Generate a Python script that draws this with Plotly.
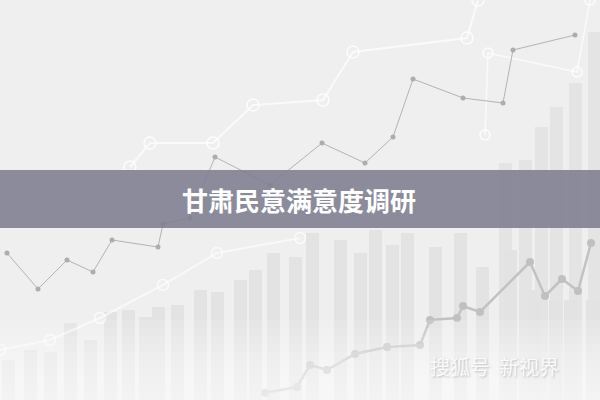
import plotly.graph_objects as go

# ---- data (heights measured from the bottom of the 400px canvas) ----
bar_x_front = [8, 30, 50, 70, 90, 110, 128, 145, 158, 177, 200, 217, 240, 255, 273, 295,
               312, 340, 360, 375, 392, 407, 435, 460, 482, 510, 535, 555, 570, 592]
bar_h_front = [40, 50, 48, 77, 60, 88, 90, 83, 93, 95, 110, 108, 120, 130, 147, 143,
               167, 160, 147, 170, 155, 167, 153, 167, 133, 150, 110, 100, 100, 100]
bar_x_back = [505, 525, 541, 556, 575, 594]
bar_h_back = [237, 240, 273, 293, 317, 368]

lineA_x = [265, 297, 310, 327, 355, 387, 420, 430, 457, 463, 480, 530, 545, 562, 578, 591]
lineA_y = [7, 13, 35, 30, 46, 53, 55, 80, 82, 94, 88, 138, 104, 121, 109, 157]

lineB_x = [7, 38, 67, 93, 112, 158, 163, 190, 215, 270, 322, 365, 393, 413, 463, 503, 513, 575]
lineB_y = [147, 111, 140, 128, 160, 153, 176, 182, 243, 215, 257, 237, 263, 321, 302, 297, 350, 365]

lineC_x = [130, 150, 213, 253, 323, 353, 467, 478]
lineC_y = [233, 257, 257, 295, 300, 348, 362, 400]

lineD_x = [0, 50, 100, 163, 217, 300]
lineD_y = [50, 60, 82, 115, 147, 162]

lineE_x = [485, 488, 577, 590]
lineE_y = [265, 347, 328, 400]

title_text = "甘肃民意满意度调研"
watermark_text = "搜狐号  新视界"

fig = go.Figure()

fig.add_trace(go.Bar(x=bar_x_back, y=bar_h_back, width=13,
                     marker=dict(color="#e4e4e4", line=dict(width=0))))
fig.add_trace(go.Bar(x=bar_x_front, y=bar_h_front, width=13,
                     marker=dict(color="#e3e3e3", line=dict(width=0))))

fig.add_trace(go.Scatter(x=lineD_x, y=lineD_y, mode="lines+markers",
                         line=dict(color="rgba(255,255,255,0.6)", width=2),
                         marker=dict(symbol="circle-open", size=11, color="rgba(255,255,255,0.7)", line=dict(width=1.5))))
fig.add_trace(go.Scatter(x=lineC_x, y=lineC_y, mode="lines+markers",
                         line=dict(color="rgba(255,255,255,0.7)", width=2),
                         marker=dict(symbol="circle-open", size=12, color="rgba(255,255,255,0.85)", line=dict(width=1.5))))
fig.add_trace(go.Scatter(x=lineE_x, y=lineE_y, mode="lines+markers",
                         line=dict(color="rgba(255,255,255,0.7)", width=1.5),
                         marker=dict(symbol="circle-open", size=10, color="rgba(255,255,255,0.85)", line=dict(width=1.5))))
fig.add_trace(go.Scatter(x=lineB_x, y=lineB_y, mode="lines+markers",
                         line=dict(color="#b3b3b3", width=1),
                         marker=dict(size=5, color="#adadad")))
fig.add_trace(go.Scatter(x=lineA_x, y=lineA_y, mode="lines+markers",
                         line=dict(color="#c2c2c2", width=2.5),
                         marker=dict(size=8, color="#c0c0c0")))

shapes = []
# bottom fog (stacked translucent white strips)
for i in range(10):
    shapes.append(dict(type="rect", xref="x", yref="y", x0=0, x1=600, y0=0, y1=8 + i * 8,
                       fillcolor="white", opacity=0.11, line=dict(width=0), layer="above"))
# title band
shapes.append(dict(type="rect", xref="x", yref="y", x0=0, x1=600, y0=172, y1=230,
                   fillcolor="rgba(128,127,145,0.9)", line=dict(width=0), layer="above"))

fig.update_layout(
    width=600, height=400,
    margin=dict(l=0, r=0, t=0, b=0),
    paper_bgcolor="#efefef", plot_bgcolor="#efefef",
    showlegend=False, bargap=0,
    xaxis=dict(range=[0, 600], visible=False, fixedrange=True),
    yaxis=dict(range=[0, 400], visible=False, fixedrange=True),
    shapes=shapes,
    annotations=[
        dict(x=299, y=201, xref="x", yref="y", text=title_text, showarrow=False,
             font=dict(family="Noto Sans CJK SC", size=26, color="white", weight="bold")),
        dict(x=494, y=34, xref="x", yref="y", text=watermark_text, showarrow=False,
             font=dict(family="Noto Sans CJK SC", size=20, color="rgba(255,255,255,0.9)",
                       shadow="1px 1px 2px rgba(150,150,150,0.6)")),
    ],
)

fig.write_html("out.html", config={"displayModeBar": False},
               post_script="document.body.style.margin='0';document.body.style.overflow='hidden';")
